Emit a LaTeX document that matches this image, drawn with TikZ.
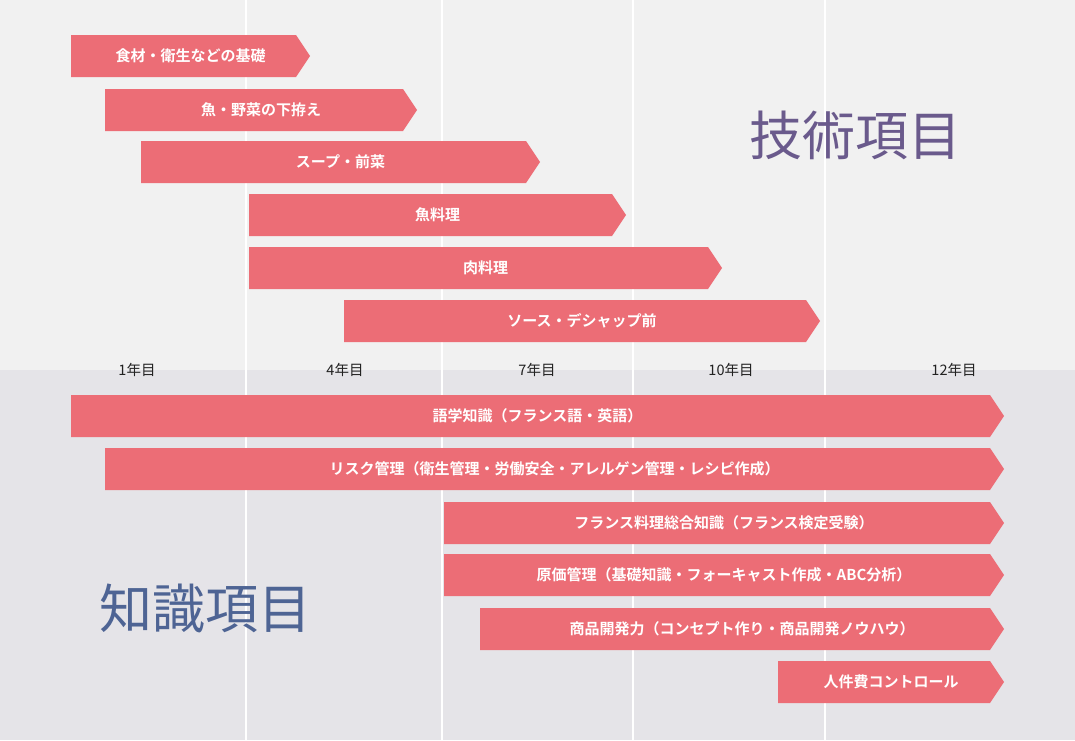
\documentclass[tikz,border=0pt]{standalone}
\usepackage{fontspec}
\newfontfamily\jp{Noto Sans CJK JP}
\newfontfamily\jpb{Noto Sans CJK JP Bold}
\definecolor{topbg}{HTML}{F1F1F1}
\definecolor{botbg}{HTML}{E5E4E8}
\definecolor{barcol}{HTML}{EC6D76}
\definecolor{purp}{HTML}{6A5A8C}
\definecolor{blu}{HTML}{4E6494}
\definecolor{lbl}{HTML}{222222}
\tikzset{
  bartext/.style={text=white, font=\jpb\fontsize{15}{18}\selectfont, inner sep=0pt},
  yearlbl/.style={text=lbl, font=\jp\fontsize{14.5}{17}\selectfont, inner sep=0pt},
  title/.style={font=\jp\fontsize{53}{58}\selectfont, inner sep=0pt},
  grid/.style={white, line width=2pt}
}
\newcommand\garrow[5]{%
  \fill[barcol] (#2,#4) -- (#3-14,#4) -- (#3,#4+21) -- (#3-14,#4+42) -- (#2,#4+42) -- cycle;
  \node[bartext] (#1) at ({(#2+#3)/2},#4+21) {#5};
}
\begin{document}
\begin{tikzpicture}[x=1pt,y=-1pt]
\useasboundingbox (0,0) rectangle (1075,740);
\fill[topbg] (0,0) rectangle (1075,370);
\fill[botbg] (0,370) rectangle (1075,740);
\foreach \gx in {246,442,633,825} \draw[grid] (\gx,0) -- (\gx,740);
% technical items
\garrow{t1}{71}{310}{35}{食材・衛生などの基礎}
\garrow{t2}{105}{417}{89}{魚・野菜の下拵え}
\garrow{t3}{141}{540}{141}{スープ・前菜}
\garrow{t4}{249}{626}{194}{魚料理}
\garrow{t5}{249}{722}{247}{肉料理}
\garrow{t6}{344}{820}{300}{ソース・デシャップ前}
% years
\node[yearlbl] (y1) at (137,370) {1年目};
\node[yearlbl] (y4) at (345,370) {4年目};
\node[yearlbl] (y7) at (537,370) {7年目};
\node[yearlbl] (y10) at (731,370) {10年目};
\node[yearlbl] (y12) at (954,370) {12年目};
% knowledge items
\garrow{k1}{71}{1004}{395}{語学知識（フランス語・英語）}
\garrow{k2}{105}{1004}{448}{リスク管理（衛生管理・労働安全・アレルゲン管理・レシピ作成）}
\garrow{k3}{444}{1004}{502}{フランス料理総合知識（フランス検定受験）}
\garrow{k4}{444}{1004}{554}{原価管理（基礎知識・フォーキャスト作成・ABC分析）}
\garrow{k5}{480}{1004}{608}{商品開発力（コンセプト作り・商品開発ノウハウ）}
\garrow{k6}{778}{1004}{661}{人件費コントロール}
% titles
\node[title, text=purp] (tech) at (855,135) {技術項目};
\node[title, text=blu] (know) at (205,608) {知識項目};
\end{tikzpicture}
\end{document}
